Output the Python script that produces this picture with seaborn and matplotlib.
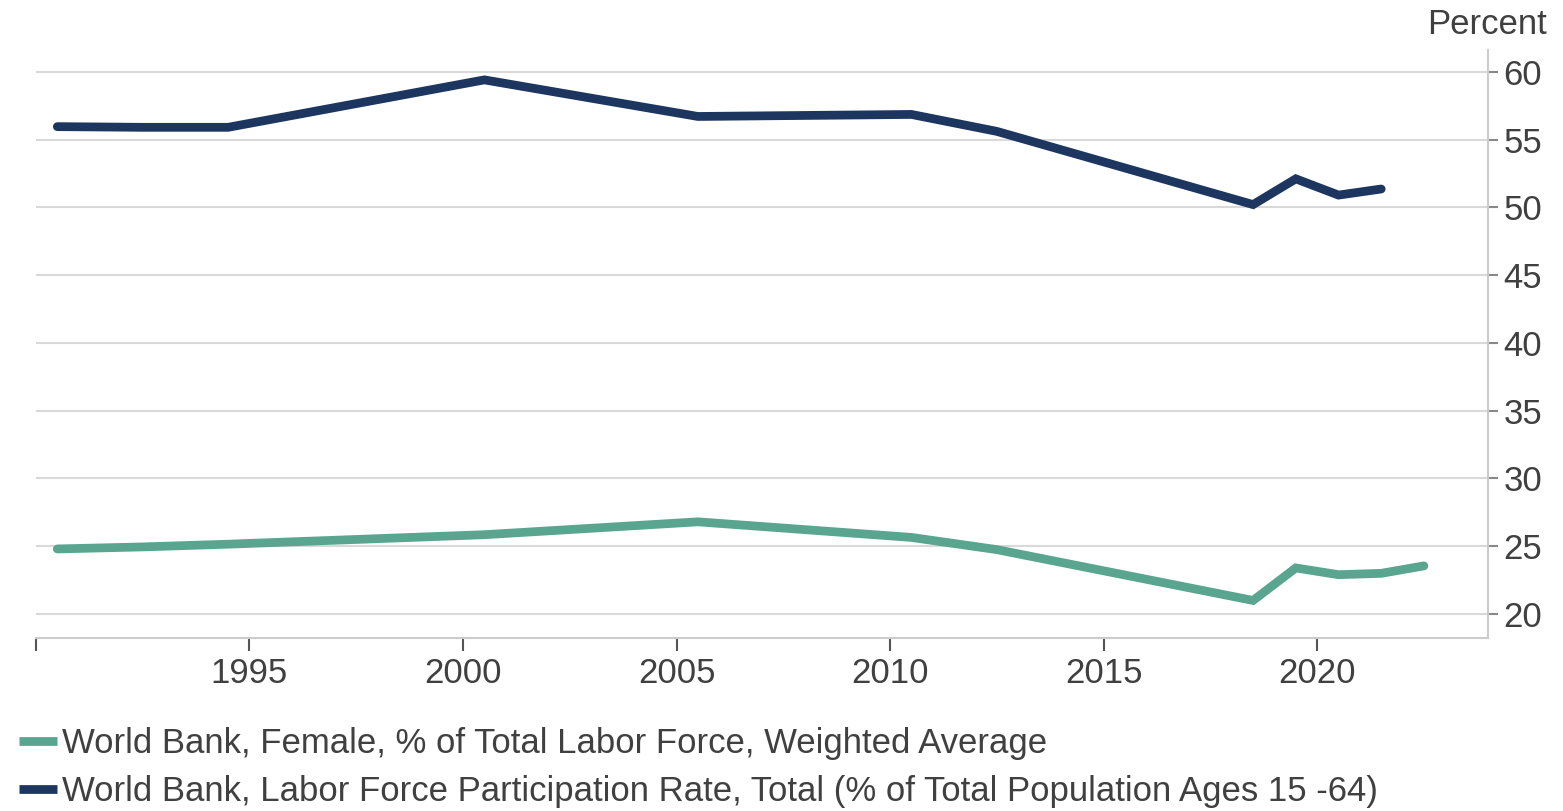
import numpy as np
import pandas as pd
import matplotlib
matplotlib.use("Agg")
import matplotlib.pyplot as plt
import seaborn as sns

# values (mid-year points)
female_years = [1990.5, 1992.5, 1994.5, 2000.5, 2005.5, 2010.5, 2012.5, 2018.5, 2019.5, 2020.5, 2021.5, 2022.5]
female_share = [24.8, 24.95, 25.15, 25.85, 26.8, 25.65, 24.75, 21.0, 23.4, 22.9, 23.0, 23.55]

lfpr_years = [1990.5, 1992.5, 1994.5, 2000.5, 2005.5, 2010.5, 2012.5, 2018.5, 2019.5, 2020.5, 2021.5]
lfpr_total = [55.95, 55.9, 55.9, 59.4, 56.7, 56.85, 55.6, 50.2, 52.1, 50.9, 51.35]

female_label = "World Bank, Female, % of Total Labor Force, Weighted Average"
lfpr_label = "World Bank, Labor Force Participation Rate, Total (% of Total Population Ages 15 -64)"

x_ticks = [1990, 1995, 2000, 2005, 2010, 2015, 2020]
x_labels = ["", "1995", "2000", "2005", "2010", "2015", "2020"]
y_ticks = [20, 25, 30, 35, 40, 45, 50, 55, 60]

green = "#5aa58f"
navy = "#1d3660"
text_col = "#404040"

sns.set_style("white")
plt.rcParams['font.family'] = ['Liberation Sans', 'DejaVu Sans']

fig = plt.figure(figsize=(15.63, 8.11), dpi=100)
ax = fig.add_axes([0.023, 0.2133, 0.929, 0.725])

sns.lineplot(x=female_years, y=female_share, ax=ax, color=green, linewidth=6.3,
             label=female_label, solid_joinstyle="miter")
sns.lineplot(x=lfpr_years, y=lfpr_total, ax=ax, color=navy, linewidth=6.3,
             label=lfpr_label, solid_joinstyle="miter")

ax.set_xlim(1990, 2024)
ax.set_ylim(18.23, 61.6)
ax.set_xticks(x_ticks)
ax.set_xticklabels(x_labels)
ax.set_yticks(y_ticks)
ax.yaxis.tick_right()
ax.grid(axis="y", color="#d9d9d9", linewidth=1.5)
ax.set_axisbelow(True)

for s in ["left", "top"]:
    ax.spines[s].set_visible(False)
for s in ["right", "bottom"]:
    ax.spines[s].set_color("#cccccc")
    ax.spines[s].set_linewidth(1.5)

ax.tick_params(axis="x", bottom=True, direction="out", length=9, width=1.5, color="#555555",
               labelsize=25, labelcolor=text_col, pad=5)
ax.tick_params(axis="y", right=True, left=False, direction="out", length=7, width=1.5,
               color="#888888", labelsize=25, labelcolor=text_col, pad=4)
ax.set_xlabel("")
ax.set_ylabel("")

fig.text(0.99, 0.97, "Percent", ha="right", va="center", fontsize=25, color=text_col)

ax.get_legend().remove()
handles, labels = ax.get_legend_handles_labels()
leg = fig.legend(handles, labels, loc="upper left", bbox_to_anchor=(0.012, 0.103),
                 frameon=False, fontsize=25, handlelength=1.1, handletextpad=0.15,
                 labelspacing=0.42, borderaxespad=0.0, borderpad=0.0, labelcolor=text_col)
for h in leg.get_lines():
    h.set_linewidth(6.3)
    h.set_solid_capstyle("butt")

fig.savefig("out.png", dpi=100)
